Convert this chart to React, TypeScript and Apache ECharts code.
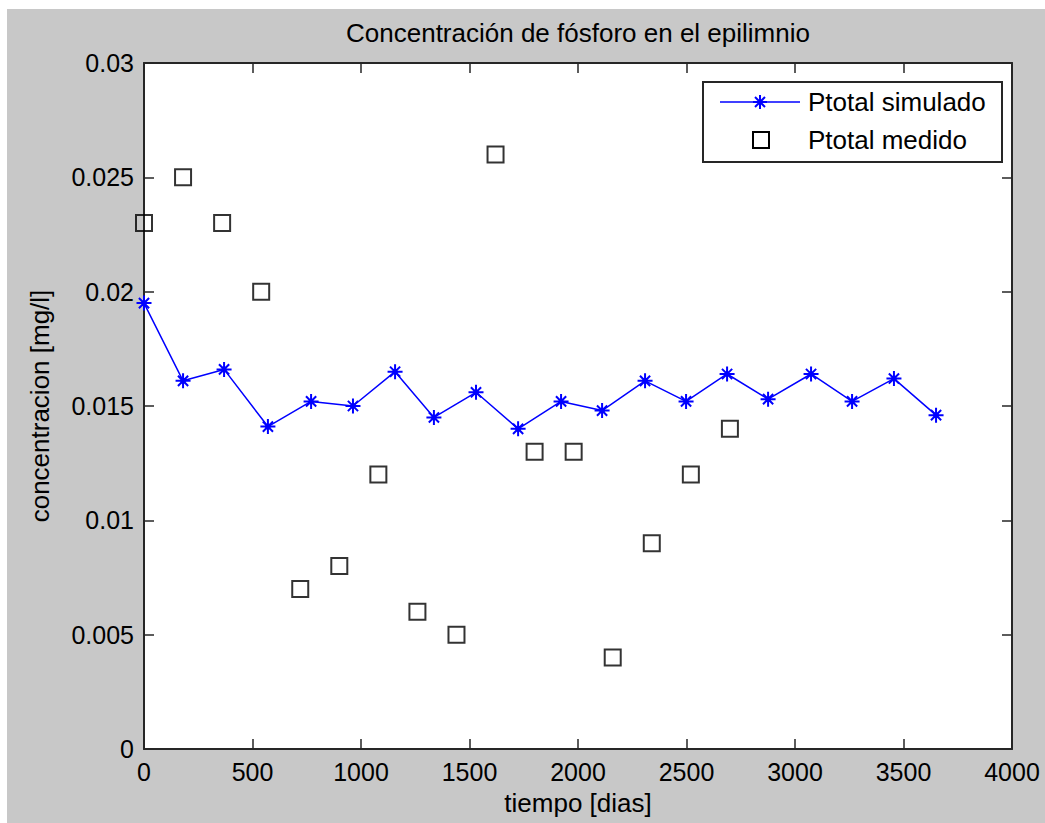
import React, { useEffect, useRef } from "react";
import * as echarts from "echarts";

const simDays = [0, 180, 369, 571, 770, 963, 1157, 1336, 1530, 1724, 1922, 2111, 2309, 2498, 2687, 2876, 3074, 3263, 3456, 3650];
const simConc = [0.0195, 0.0161, 0.0166, 0.0141, 0.0152, 0.015, 0.0165, 0.0145, 0.0156, 0.014, 0.0152, 0.0148, 0.0161, 0.0152, 0.0164, 0.0153, 0.0164, 0.0152, 0.0162, 0.0146];
const medDays = [0, 180, 360, 540, 720, 900, 1080, 1260, 1440, 1620, 1800, 1980, 2160, 2340, 2520, 2700];
const medConc = [0.023, 0.025, 0.023, 0.02, 0.007, 0.008, 0.012, 0.006, 0.005, 0.026, 0.013, 0.013, 0.004, 0.009, 0.012, 0.014];

const titleText = "Concentración de fósforo en el epilimnio";
const xLabel = "tiempo [dias]";
const yLabel = "concentracion [mg/l]";
const legendNames = ["Ptotal simulado", "Ptotal medido"];

const FONT = "'Liberation Sans', Arial, sans-serif";
const STAR = "path://M5,0L5,10M0,5L10,5M1.6,1.6L8.4,8.4M1.6,8.4L8.4,1.6M3.8,3.8L6.2,3.8L6.2,6.2L3.8,6.2Z";

export default function App() {
  const ref = useRef<HTMLDivElement>(null);
  useEffect(() => {
    if (!ref.current) return;
    const chart = echarts.init(ref.current, undefined, { renderer: "svg" });
    const L = 144, T = 63, W = 868, H = 686;
    const axisCommon = {
      min: 0,
      splitLine: { show: false },
      axisLine: { show: true, onZero: false, lineStyle: { color: "#262626", width: 2 } },
      axisTick: { show: true, inside: true, length: 10, lineStyle: { color: "#262626", width: 1.5 } },
    };
    const tickLabel = { color: "#000", fontFamily: FONT, fontSize: 25 };
    const yFmt = (v: number) => String(Number(v.toFixed(3)));
    const xFmt = (v: number) => String(v);
    const lx = 703, ly = 82, lw = 299, lh = 80;
    const sx = 760, sy = 102, r = 7;
    chart.setOption({
      animation: false,
      backgroundColor: "#ffffff",
      grid: { left: L, top: T, width: W, height: H, show: true, backgroundColor: "#ffffff", borderWidth: 0 },
      xAxis: [
        { ...axisCommon, type: "value", max: 4000, interval: 500, position: "bottom",
          axisLabel: { ...tickLabel, margin: 10, formatter: xFmt } },
        { ...axisCommon, type: "value", max: 4000, interval: 500, position: "top",
          axisLabel: { show: false } },
      ],
      yAxis: [
        { ...axisCommon, type: "value", max: 0.03, interval: 0.005, position: "left",
          axisLabel: { ...tickLabel, margin: 10, formatter: yFmt } },
        { ...axisCommon, type: "value", max: 0.03, interval: 0.005, position: "right",
          axisLabel: { show: false } },
      ],
      series: [
        {
          name: legendNames[0],
          type: "line",
          data: simDays.map((d, i) => [d, simConc[i]]),
          symbol: STAR,
          symbolSize: 15,
          showAllSymbol: true,
          lineStyle: { color: "#0000ff", width: 1.5 },
          itemStyle: { color: "#0000ff", borderColor: "#0000ff", borderWidth: 2 },
          z: 3,
        },
        {
          name: legendNames[1],
          type: "scatter",
          data: medDays.map((d, i) => [d, medConc[i]]),
          symbol: "rect",
          symbolSize: 16,
          itemStyle: { color: "rgba(0,0,0,0)", borderColor: "#000000", borderWidth: 2 },
          z: 4,
        },
      ],
      graphic: [
        { type: "rect", z: -10, silent: true, shape: { x: 7, y: 9, width: 1045, height: 823 }, style: { fill: "#c8c8c8" } },
        { type: "text", x: 578, y: 33, style: { text: titleText, font: `26px ${FONT}`, fill: "#000", align: "center", verticalAlign: "middle" } },
        { type: "text", x: 578, y: 803, style: { text: xLabel, font: `26px ${FONT}`, fill: "#000", align: "center", verticalAlign: "middle" } },
        { type: "text", x: 40, y: 406, rotation: Math.PI / 2, style: { text: yLabel, font: `26px ${FONT}`, fill: "#000", align: "center", verticalAlign: "middle" } },
        { type: "rect", z: 10, shape: { x: lx, y: ly, width: lw, height: lh }, style: { fill: "#ffffff", stroke: "#262626", lineWidth: 2 } },
        { type: "line", z: 11, shape: { x1: 720, y1: sy, x2: 800, y2: sy }, style: { stroke: "#0000ff", lineWidth: 1.5 } },
        { type: "line", z: 11, shape: { x1: sx, y1: sy - r, x2: sx, y2: sy + r }, style: { stroke: "#0000ff", lineWidth: 2 } },
        { type: "line", z: 11, shape: { x1: sx - r, y1: sy, x2: sx + r, y2: sy }, style: { stroke: "#0000ff", lineWidth: 2 } },
        { type: "line", z: 11, shape: { x1: sx - 5, y1: sy - 5, x2: sx + 5, y2: sy + 5 }, style: { stroke: "#0000ff", lineWidth: 2 } },
        { type: "line", z: 11, shape: { x1: sx - 5, y1: sy + 5, x2: sx + 5, y2: sy - 5 }, style: { stroke: "#0000ff", lineWidth: 2 } },
        { type: "circle", z: 11, shape: { cx: sx, cy: sy, r: 2 }, style: { fill: "#0000ff" } },
        { type: "rect", z: 11, shape: { x: 753, y: 132, width: 16, height: 16 }, style: { fill: "rgba(0,0,0,0)", stroke: "#000", lineWidth: 2 } },
        { type: "text", z: 11, x: 808, y: 102, style: { text: legendNames[0], font: `26px ${FONT}`, fill: "#000", align: "left", verticalAlign: "middle" } },
        { type: "text", z: 11, x: 808, y: 140, style: { text: legendNames[1], font: `26px ${FONT}`, fill: "#000", align: "left", verticalAlign: "middle" } },
      ],
    });
    return () => chart.dispose();
  }, []);
  return (
    <div style={{ position: "absolute", left: 0, top: 0, width: 1045, height: 823 }}>
      <div ref={ref} style={{ width: 1045, height: 823 }} />
    </div>
  );
}
